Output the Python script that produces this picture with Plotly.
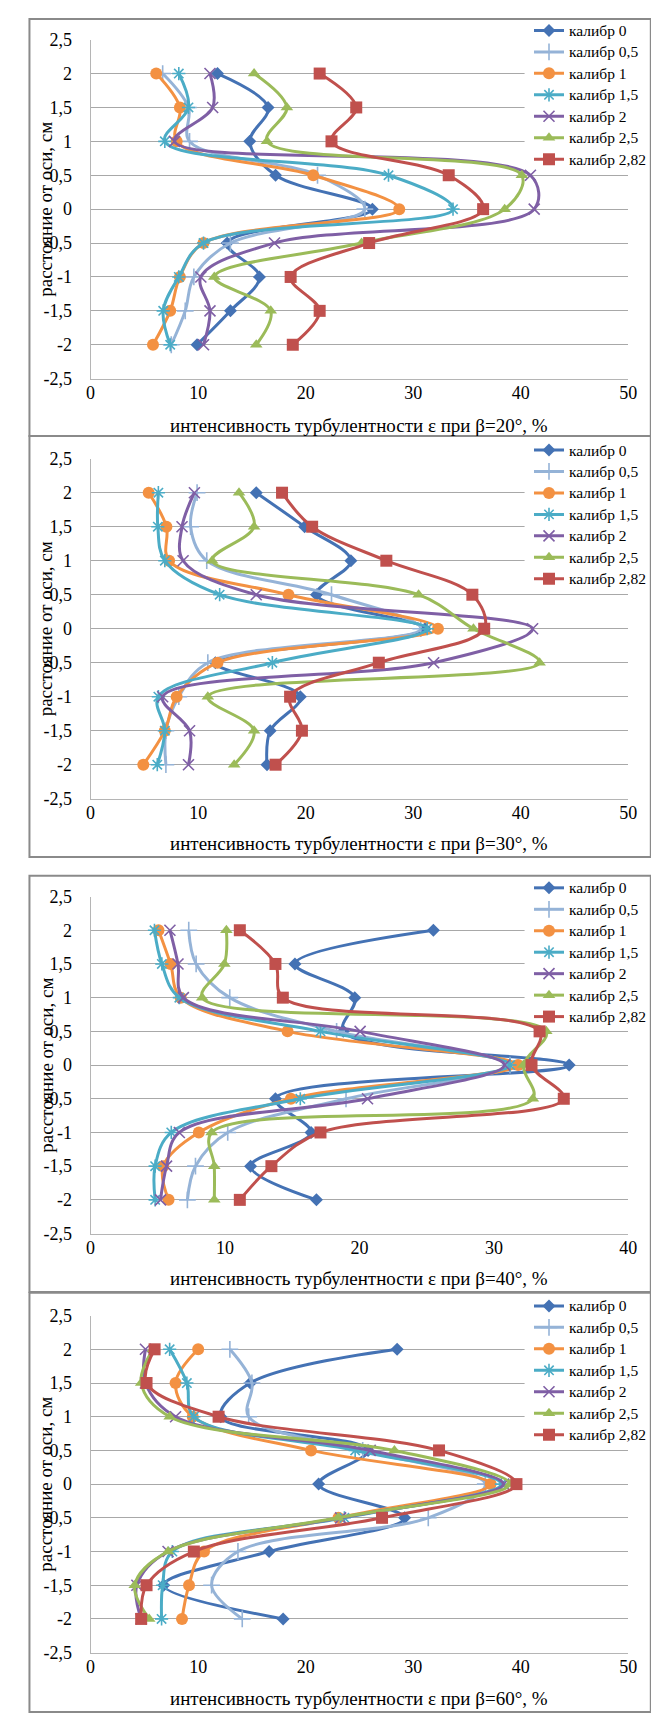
import plotly.graph_objects as go

# ---------------- data ----------------
positions = [2, 1.5, 1, 0.5, 0, -0.5, -1, -1.5, -2]
series_names = ["калибр 0", "калибр 0,5", "калибр 1", "калибр 1,5",
                "калибр 2", "калибр 2,5", "калибр 2,82"]
y_tick_vals = [2.5, 2, 1.5, 1, 0.5, 0, -0.5, -1, -1.5, -2, -2.5]
y_tick_text = ["2,5", "2", "1,5", "1", "0,5", "0", "-0,5", "-1", "-1,5", "-2", "-2,5"]
beta_angles = ["20", "30", "40", "60"]
x_limits = [50, 50, 40, 50]

# beta = 20°
b20_k0 = [11.8, 16.5, 14.8, 17.2, 26.2, 12.7, 15.7, 13.0, 9.9]
b20_k05 = [6.7, 9.1, 9.2, 21.1, 25.5, 13.0, 9.6, 8.8, 7.5]
b20_k1 = [6.1, 8.3, 8.0, 20.7, 28.7, 10.5, 8.3, 7.4, 5.8]
b20_k15 = [8.2, 9.1, 6.9, 27.7, 33.7, 10.5, 8.2, 6.75, 7.4]
b20_k2 = [11.1, 11.35, 7.8, 40.9, 41.25, 17.1, 10.25, 11.1, 10.5]
b20_k25 = [15.2, 18.25, 16.4, 40.1, 38.5, 25.2, 11.5, 16.75, 15.4]
b20_k282 = [21.3, 24.7, 22.4, 33.3, 36.5, 25.9, 18.6, 21.3, 18.8]

# beta = 30°
b30_k0 = [15.4, 19.9, 24.2, 21.0, 31.1, 11.6, 19.5, 16.7, 16.4]
b30_k05 = [9.9, 9.3, 10.8, 22.4, 30.7, 10.9, 8.2, 7.0, 7.0]
b30_k1 = [5.4, 7.05, 7.3, 18.4, 32.3, 11.8, 8.0, 6.9, 4.9]
b30_k15 = [6.3, 6.25, 6.9, 12.0, 31.3, 16.9, 6.3, 6.9, 6.2]
b30_k2 = [9.65, 8.5, 8.6, 15.4, 41.1, 31.9, 6.7, 9.2, 9.1]
b30_k25 = [13.8, 15.2, 11.3, 30.5, 35.6, 41.75, 10.9, 15.2, 13.35]
b30_k282 = [17.8, 20.6, 27.5, 35.5, 36.6, 26.8, 18.55, 19.65, 17.2]

# beta = 40°
b40_k0 = [25.5, 15.2, 19.65, 18.8, 35.6, 13.75, 16.4, 11.9, 16.8]
b40_k05 = [7.3, 7.85, 10.35, 18.3, 31.2, 19.0, 10.2, 7.8, 7.2]
b40_k1 = [5.05, 5.95, 6.7, 14.65, 31.8, 14.9, 8.05, 5.4, 5.8]
b40_k15 = [4.75, 5.3, 6.6, 17.1, 31.2, 15.6, 6.0, 4.8, 4.8]
b40_k2 = [5.9, 6.5, 6.9, 20.05, 30.8, 20.6, 6.6, 5.65, 5.2]
b40_k25 = [10.1, 9.95, 8.3, 33.9, 32.2, 32.9, 9.0, 9.2, 9.2]
b40_k282 = [11.1, 13.75, 14.3, 33.4, 32.8, 35.2, 17.1, 13.45, 11.1]

# beta = 60°
b60_k0 = [28.5, 14.85, 12.1, 25.8, 21.2, 29.2, 16.6, 6.8, 17.9]
b60_k05 = [12.95, 15.0, 14.7, 25.3, 36.7, 31.4, 13.7, 11.25, 14.1]
b60_k1 = [10.0, 7.9, 9.5, 20.5, 37.2, 23.05, 10.55, 9.15, 8.5]
b60_k15 = [7.35, 8.95, 9.6, 24.6, 38.2, 23.6, 7.6, 6.7, 6.6]
b60_k2 = [5.1, 5.1, 7.9, 26.0, 38.4, 23.25, 7.2, 4.3, 4.7]
b60_k25 = [5.8, 4.7, 7.35, 28.25, 39.0, 23.0, 7.2, 4.1, 5.45]
b60_k282 = [5.95, 5.2, 11.9, 32.4, 39.6, 27.1, 9.6, 5.2, 4.7]

panels_data = [
    [b20_k0, b20_k05, b20_k1, b20_k15, b20_k2, b20_k25, b20_k282],
    [b30_k0, b30_k05, b30_k1, b30_k15, b30_k2, b30_k25, b30_k282],
    [b40_k0, b40_k05, b40_k1, b40_k15, b40_k2, b40_k25, b40_k282],
    [b60_k0, b60_k05, b60_k1, b60_k15, b60_k2, b60_k25, b60_k282],
]

# ---------------- styles / layout ----------------
W, H = 651, 1716
FONT = "Liberation Serif"
styles = [
    dict(color="#4472B4", symbol="diamond", size=10, open=False),
    dict(color="#95B3D7", symbol="cross-thin-open", size=12, open=True),
    dict(color="#F39142", symbol="circle", size=12, open=False),
    dict(color="#4BACC6", symbol="asterisk-open", size=11, open=True),
    dict(color="#7F5FA5", symbol="x-thin-open", size=11, open=True),
    dict(color="#9BBB59", symbol="triangle-up", size=11, open=False),
    dict(color="#C0504D", symbol="square", size=12, open=False),
]
plot_left, plot_right = 87.5, 637.0
plot_rows = [(30, 373), (454, 798), (897, 1238), (1321, 1662)]
legend_first_item = [20.5, 445, 888, 1311]
legend_left = 536
gridcut_left = 531
frames = [(9, 431), (431, 857), (876, 1297), (1298, 1722)]
xtitle_y = [420, 843, 1283, 1708]
LEG_FONT = 14.2
LEG_TEXT = 15.5


def px_x(p):
    return p / W


def px_y(p):
    return 1 - p / H


fig = go.Figure()
for pi, series in enumerate(panels_data):
    idx = pi + 1
    sfx = "" if idx == 1 else str(idx)
    for si, vals in enumerate(series):
        st = styles[si]
        marker = dict(symbol=st["symbol"], size=st["size"], color=st["color"])
        if st["open"]:
            marker["line"] = dict(color=st["color"], width=1.6)
        else:
            marker["line"] = dict(width=0)
        fig.add_trace(go.Scatter(
            x=vals, y=positions, mode="lines+markers",
            name='<span style="font-size:%spx">%s</span>' % (LEG_TEXT, series_names[si]),
            line=dict(color=st["color"], width=3, shape="spline", smoothing=1),
            marker=marker, xaxis="x" + sfx, yaxis="y" + sfx,
            legend="legend" + sfx, cliponaxis=False,
        ))

    top, bottom = plot_rows[pi]
    xmax = x_limits[pi]
    fig.layout["xaxis" + sfx] = dict(
        domain=[px_x(plot_left), px_x(plot_right)], range=[0, xmax],
        tickvals=list(range(0, xmax + 1, 10)), showgrid=False, zeroline=False,
        showline=True, linecolor="#b5b5b5", linewidth=1, ticks="",
        tickfont=dict(family=FONT, size=18, color="black"),
        anchor="y" + sfx, fixedrange=True, ticklabelstandoff=-2,
    )
    fig.layout["yaxis" + sfx] = dict(
        domain=[px_y(bottom), px_y(top)], range=[-2.5, 2.5],
        tickvals=y_tick_vals, ticktext=y_tick_text, showgrid=True,
        gridcolor="#a8a8a8", gridwidth=1, zeroline=False,
        showline=True, linecolor="#b5b5b5", linewidth=1, ticks="",
        tickfont=dict(family=FONT, size=18, color="black"),
        anchor="x" + sfx, fixedrange=True, ticklabelstandoff=14,
    )
    item_h = LEG_FONT * 1.3 + 3
    fig.layout["legend" + sfx] = dict(
        x=px_x(legend_left), xanchor="left",
        y=px_y(legend_first_item[pi] - 5 - item_h / 2), yanchor="top",
        bgcolor="rgba(0,0,0,0)", borderwidth=0, itemwidth=30, tracegroupgap=0,
        font=dict(family=FONT, size=LEG_FONT, color="black"),
    )
    # white box behind the legend: hides gridlines, stays under the traces
    px_per_unit = (plot_right - plot_left) / xmax
    fig.add_shape(type="rect", xref="x" + sfx, yref="y" + sfx, layer="between",
                  x0=(gridcut_left - plot_left) / px_per_unit, x1=xmax * 1.2,
                  y0=0.62, y1=3.0, fillcolor="white", line=dict(width=0))
    # axis titles
    fig.add_annotation(
        text="интенсивность турбулентности ε при β=" + beta_angles[pi] + "°, %",
        x=px_x((plot_left + plot_right) / 2), y=px_y(xtitle_y[pi]),
        xref="paper", yref="paper", showarrow=False, xanchor="center", yanchor="middle",
        font=dict(family=FONT, size=19, color="black"),
    )
    fig.add_annotation(
        text="расстояние от оси, см", textangle=-90,
        x=px_x(41.5), y=px_y((top + bottom) / 2),
        xref="paper", yref="paper", showarrow=False, xanchor="center", yanchor="middle",
        font=dict(family=FONT, size=19, color="black"),
    )
    # chart frame
    ft, fb = frames[pi]
    fig.add_shape(type="rect", xref="paper", yref="paper",
                  x0=px_x(25), x1=px_x(660), y0=px_y(fb), y1=px_y(ft),
                  line=dict(color="#8a8a8a", width=2), layer="below")

fig.update_layout(
    width=W, height=H, autosize=False,
    margin=dict(l=0, r=0, t=0, b=0),
    paper_bgcolor="white", plot_bgcolor="white",
    showlegend=True,
)

fig.write_html("out.html", config={"displayModeBar": False},
               post_script="document.body.style.margin='0';")
